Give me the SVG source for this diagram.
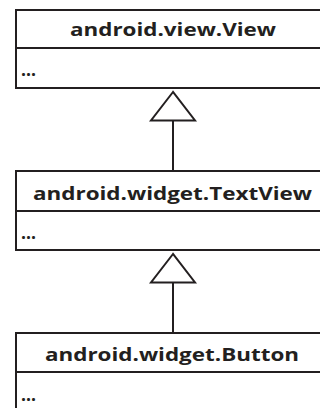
<svg xmlns="http://www.w3.org/2000/svg" width="320" height="408" viewBox="0 0 320 408">
<style>
.box{fill:#fff;stroke:#231f20;stroke-width:2}
.div{stroke:#231f20;stroke-width:2}
.title{font-family:"Open Sans","Noto Sans",sans-serif;font-weight:bold;font-size:17px;fill:#231f20;text-anchor:middle}
.dots{font-family:"Open Sans","Noto Sans",sans-serif;font-weight:bold;font-size:17px;fill:#231f20}
.conn{stroke:#231f20;stroke-width:2;fill:none}
.tri{fill:#fff;stroke:#231f20;stroke-width:2}
</style>
<rect width="320" height="408" fill="#fff"/>
<g id="connectors">
<line class="conn" x1="173" y1="120" x2="173" y2="171"/>
<polygon class="tri" points="173,92 151,120.5 195,120.5"/>
<line class="conn" x1="173" y1="282" x2="173" y2="333"/>
<polygon class="tri" points="173,254 151,282.5 195,282.5"/>
</g>
<g id="view">
<rect class="box" x="16" y="10" width="314" height="78"/>
<line class="div" x1="16" y1="48" x2="330" y2="48"/>
<text class="title" x="173" y="36" textLength="206" lengthAdjust="spacingAndGlyphs">android.view.View</text>
<text class="dots" x="21" y="76" textLength="15" lengthAdjust="spacingAndGlyphs">...</text>
</g>
<g id="textview">
<rect class="box" x="16" y="171" width="314" height="79"/>
<line class="div" x1="16" y1="211" x2="330" y2="211"/>
<text class="title" x="172.5" y="200" textLength="279" lengthAdjust="spacingAndGlyphs">android.widget.TextView</text>
<text class="dots" x="21" y="239" textLength="15" lengthAdjust="spacingAndGlyphs">...</text>
</g>
<g id="button">
<rect class="box" x="16" y="333" width="314" height="90"/>
<line class="div" x1="16" y1="372" x2="330" y2="372"/>
<text class="title" x="172" y="361" textLength="254" lengthAdjust="spacingAndGlyphs">android.widget.Button</text>
<text class="dots" x="21" y="401" textLength="15" lengthAdjust="spacingAndGlyphs">...</text>
</g>
</svg>
